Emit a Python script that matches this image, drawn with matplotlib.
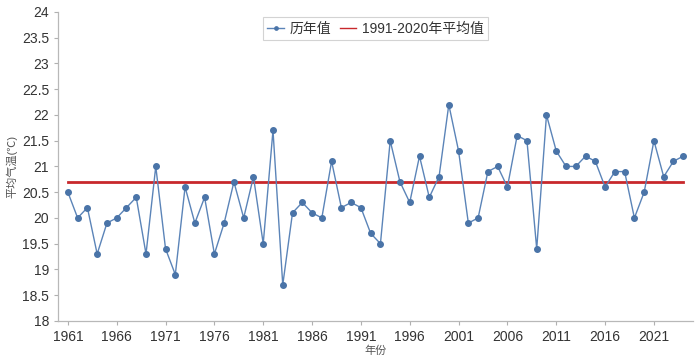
import matplotlib
matplotlib.use("Agg")
import matplotlib.pyplot as plt
import numpy as np

plt.rcParams['font.family'] = ['Liberation Sans', 'Noto Sans CJK SC', 'DejaVu Sans']

years = np.arange(1961, 2025)
temps = [20.5, 20.0, 20.2, 19.3, 19.9, 20.0, 20.2, 20.4, 19.3, 21.0,
         19.4, 18.9, 20.6, 19.9, 20.4, 19.3, 19.9, 20.7, 20.0, 20.8,
         19.5, 21.7, 18.7, 20.1, 20.3, 20.1, 20.0, 21.1, 20.2, 20.3,
         20.2, 19.7, 19.5, 21.5, 20.7, 20.3, 21.2, 20.4, 20.8, 22.2,
         21.3, 19.9, 20.0, 20.9, 21.0, 20.6, 21.6, 21.5, 19.4, 22.0,
         21.3, 21.0, 21.0, 21.2, 21.1, 20.6, 20.9, 20.9, 20.0, 20.5,
         21.5, 20.8, 21.1, 21.2]
normal = 20.7
tick_years = list(range(1961, 2022, 5))

fig = plt.figure(figsize=(7, 3.63), dpi=100)
ax = fig.add_axes([0.083, 0.116, 0.907, 0.851])

ax.plot(years, [normal] * len(years), color='#c8282c', lw=2, zorder=1,
        label='1991-2020年平均值')
ax.plot(years, temps, color='#5b84b8', lw=1, marker='o', markersize=4,
        markerfacecolor='#4a74a8', markeredgecolor='#4a74a8', zorder=2,
        label='历年值')

ax.set_xlim(1960, 2025)
ax.set_ylim(18, 24)
ax.set_xticks(tick_years)
ax.set_yticks(np.arange(18, 24.01, 0.5))
ax.set_yticklabels(['{:g}'.format(v) for v in np.arange(18, 24.01, 0.5)])
ax.tick_params(axis='both', colors='#b0b0b0', labelcolor='#333333',
               labelsize=10, length=3, width=0.8)

for s in ['top', 'right']:
    ax.spines[s].set_visible(False)
for s in ['left', 'bottom']:
    ax.spines[s].set_color('#b8b8b8')
    ax.spines[s].set_linewidth(0.9)

ax.set_ylabel('平均气温(℃)', fontsize=8, color='#555555', labelpad=3)
ax.set_xlabel('年份', fontsize=8, color='#555555', labelpad=1)

h, l = ax.get_legend_handles_labels()
leg = ax.legend(h[::-1], l[::-1], loc='upper center', bbox_to_anchor=(0.5, 1.005),
                ncol=2, fontsize=10, frameon=True, fancybox=False,
                handlelength=1.2, handletextpad=0.4, columnspacing=0.6,
                borderpad=0.3, markerscale=0.6, labelcolor='#333333')
leg.get_frame().set_edgecolor('#c8c8c8')
leg.get_frame().set_linewidth(0.8)
leg.get_lines()[1].set_linewidth(1)

fig.savefig('out.png', dpi=100)
